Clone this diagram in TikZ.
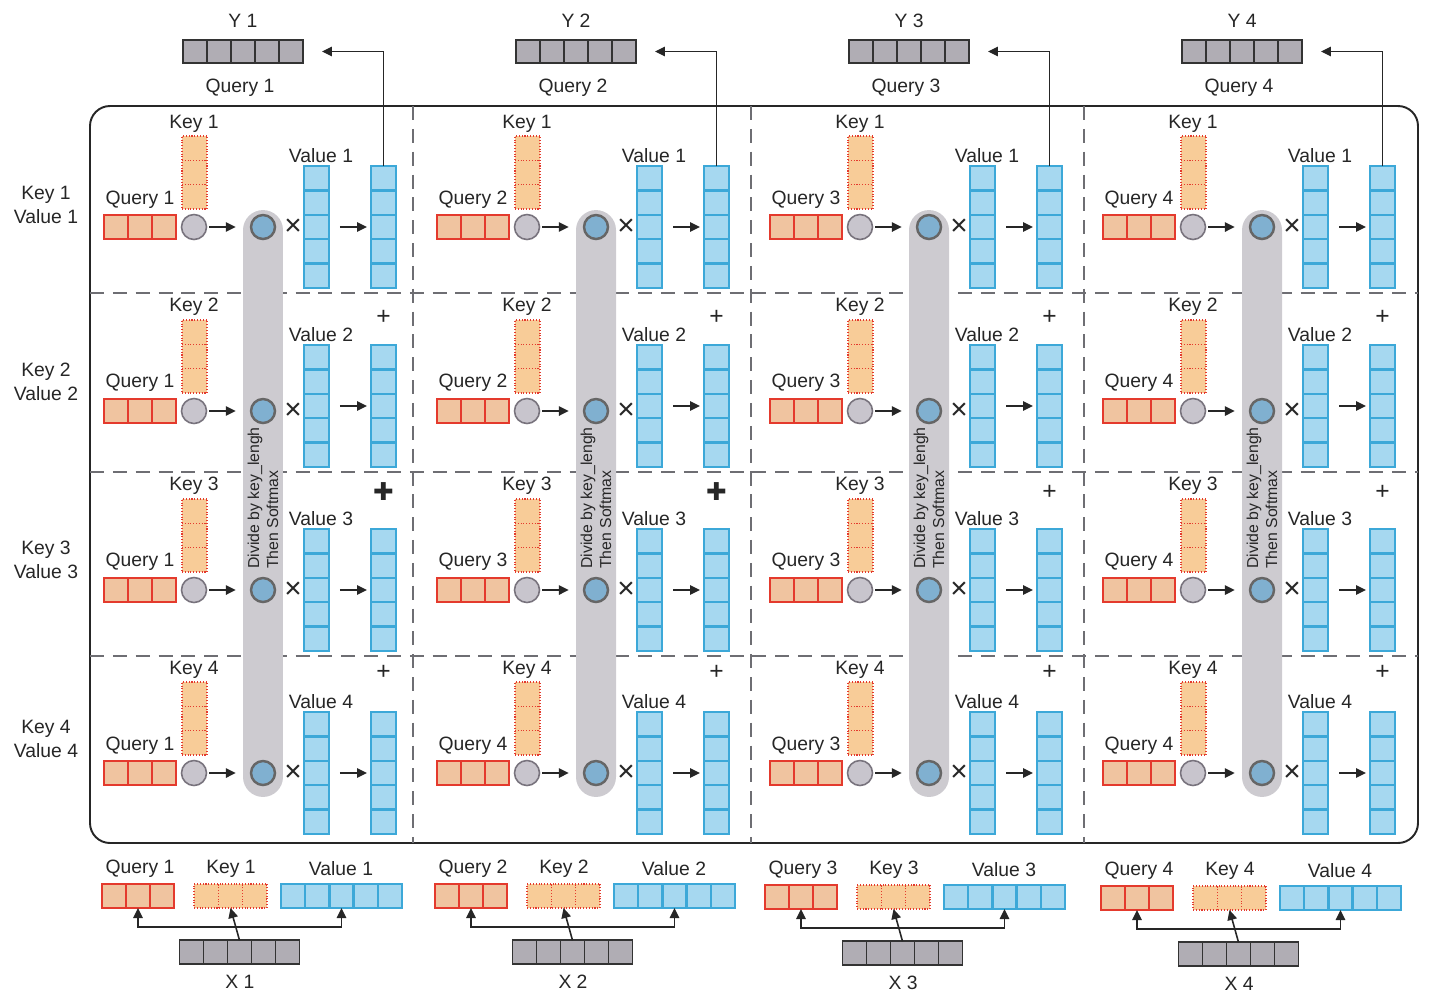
\documentclass[tikz,border=0pt]{standalone}
\usepackage{fontspec}
\setmainfont{Liberation Sans}
\newfontfamily\symfont{DejaVu Sans}
\usetikzlibrary{arrows.meta,calc}
\definecolor{qred}{RGB}{228,58,45}
\definecolor{qfill}{RGB}{240,196,160}
\definecolor{kfill}{RGB}{248,204,152}
\definecolor{vblue}{RGB}{60,168,216}
\definecolor{vfill}{RGB}{166,216,240}
\definecolor{dotgray}{RGB}{120,115,125}
\definecolor{dotfill}{RGB}{200,197,205}
\definecolor{bfill}{RGB}{128,176,208}
\definecolor{pillgray}{RGB}{205,203,208}
\definecolor{boxgray}{RGB}{176,173,180}
\definecolor{sepgray}{RGB}{110,110,115}

\begin{document}
\begin{tikzpicture}[x=0.02cm, y=-0.02cm, every node/.style={font=\fontsize{11}{14}\selectfont, text=black!85},
	hcells/.style n args={2}{path picture={\foreach \k in {1,...,#1} \draw[#2] ($(path picture bounding box.south west)!\k/#1!(path picture bounding box.south east)$) -- ($(path picture bounding box.north west)!\k/#1!(path picture bounding box.north east)$);}},
	vcells/.style n args={2}{path picture={\foreach \k in {1,...,#1} \draw[#2] ($(path picture bounding box.north west)!\k/#1!(path picture bounding box.south west)$) -- ($(path picture bounding box.north east)!\k/#1!(path picture bounding box.south east)$);}},
	qbox/.style={draw=qred, fill=qfill, line width=1.3pt, inner sep=0pt, outer sep=0pt, minimum width=1.44cm, minimum height=0.48cm, hcells={3}{qred, line width=1.3pt}},
	kbox/.style={draw=qred, dash pattern=on 0.6pt off 1pt, fill=kfill, line width=0.7pt, inner sep=0pt, outer sep=0pt, minimum width=0.5cm, minimum height=1.46cm, vcells={3}{qred, dash pattern=on 0.6pt off 1pt, line width=0.7pt}},
	kbar/.style={draw=qred, dash pattern=on 0.6pt off 1pt, fill=kfill, line width=0.7pt, inner sep=0pt, outer sep=0pt, minimum width=1.46cm, minimum height=0.48cm, hcells={3}{qred, dash pattern=on 0.6pt off 1pt, line width=0.7pt}},
	vbox/.style={draw=vblue, fill=vfill, line width=1.4pt, inner sep=0pt, outer sep=0pt, minimum width=0.5cm, minimum height=2.44cm, vcells={5}{vblue, line width=1.4pt}},
	vbar/.style={draw=vblue, fill=vfill, line width=1.4pt, inner sep=0pt, outer sep=0pt, minimum width=2.42cm, minimum height=0.48cm, hcells={5}{vblue, line width=1.4pt}},
	ybox/.style={draw=black!80, fill=boxgray, line width=1pt, inner sep=0pt, outer sep=0pt, minimum width=2.4cm, minimum height=0.47cm, hcells={5}{black!80, line width=1pt}},
	gdot/.style={circle, draw=dotgray, fill=dotfill, line width=0.9pt, minimum size=0.5cm, inner sep=0pt},
	bdot/.style={circle, draw=black!60, fill=bfill, line width=1.4pt, minimum size=0.48cm, inner sep=0pt},
	pill/.style={fill=pillgray, rounded corners=0.4cm, minimum width=0.8cm, minimum height=11.74cm, inner sep=0pt},
	soft/.style={rotate=90, align=left, font=\fontsize{9}{10.8}\selectfont},
	times/.style={font=\fontsize{17}{17}\selectfont, inner sep=0pt},
	plus/.style={font=\fontsize{14}{14}\selectfont, inner sep=0pt},
	tip/.style={-{Triangle[length=0.2cm, width=0.19cm]}, line width=0.9pt, black!85},
	sep/.style={sepgray, line width=1.1pt, dash pattern=on 8pt off 5pt},
	frame/.style={black!85, line width=1.1pt, rounded corners=0.4cm}]
	\useasboundingbox (0,0) rectangle (1430,1002);

	% frame and grid
	\draw[frame] (90,106) rectangle (1418,843);
	\foreach \x in {413,751,1084} {\draw[sep] (\x,106) -- (\x,843);}
	\foreach \y in {293,472,656} {\draw[sep] (90,\y) -- (1418,\y);}

	% row labels
	\foreach \r/\ly in {1/205, 2/382, 3/560, 4/739} {\node[align=center] (rl\r) at (46,\ly) {Key \r\\Value \r};}

	% softmax columns
	\foreach \c in {1,...,4} {
		\node[pill] (pill\c) at ({263+333*(\c-1)},503.5) {};
		\node[soft] (soft\c) at ({263+333*(\c-1)},498) {Divide by key\_lengh\\Then Softmax};
	}

	% cells
	\foreach \r/\cy/\ky/\ql/\vl/\vy/\qs in {1/227/124/200/156/227/{1,2,3,4}, 2/411/307/383/335/406/{1,2,3,4}, 3/590/486/562/519/590/{1,3,3,4}, 4/773/670/746/702/773/{1,4,3,4}} {
		\foreach \q [count=\c] in \qs {
			\pgfmathsetmacro\ox{333*(\c-1)}
			\node[qbox] (q\c\r) at ({140+\ox},\cy) {}; \node (ql\c\r) at ({140+\ox},\ql) {Query \q};
			\node[kbox] (k\c\r) at ({194.5+\ox},{\cy-54.5}) {}; \node (kl\c\r) at ({194+\ox},\ky) {Key \r};
			\node[gdot] (g\c\r) at ({194+\ox},\cy) {}; \node[bdot] (b\c\r) at ({263+\ox},\cy) {};
			\node[times] (m\c\r) at ({293+\ox},\cy) {×};
			\node[vbox] (v\c\r) at ({316.5+\ox},\vy) {}; \node (vl\c\r) at ({321+\ox},\vl) {Value \r};
			\node[vbox] (o\c\r) at ({383.5+\ox},\vy) {};
			\draw[tip, shorten <=1pt, shorten >=0.28cm] (g\c\r) -- (b\c\r);
			\draw[tip, shorten <=0.22cm, shorten >=0.08cm] (v\c\r) -- (o\c\r);
		}
	}
	\foreach \r/\py in {2/317, 3/492, 4/672} {
		\foreach \c in {1,...,4} {\node[plus] (p\c\r) at ({383.5+333*(\c-1)},\py) {\ifnum\r=3 \ifnum\c<3 {\symfont ✚}\else +\fi\else +\fi};}
	}

	% outputs
	\foreach \c in {1,...,4} {
		\pgfmathsetmacro\ox{333*(\c-1)}
		\node[ybox] (y\c) at ({243+\ox},51.5) {};
		\node (yl\c) at ({243+\ox},21) {Y \c}; \node (yq\c) at ({240+\ox},88) {Query \c};
		\draw[tip, line width=0.6pt] (o\c1.north) |- ([xshift=0.38cm]y\c.east);
	}

	% inputs
	\foreach \c/\ox/\oy in {1/0/0, 2/333/0, 3/663/1, 4/999/2} {
		\node[qbox] (bq\c) at ({138+\ox},{896+\oy}) {}; \node (bql\c) at ({140+\ox},{869+\oy}) {Query \c};
		\node[kbar] (bk\c) at ({230.5+\ox},{896+\oy}) {}; \node (bkl\c) at ({231+\ox},{869+\oy}) {Key \c};
		\node[vbar] (bv\c) at ({341.5+\ox},{896+\oy}) {}; \node (bvl\c) at ({341+\ox},{869+\oy}) {Value \c};
		\node[ybox] (x\c) at ({239.5+\ox},{952+\oy}) {}; \node (xl\c) at ({240+\ox},{982+\oy}) {X \c};
		\coordinate (j\c) at ([yshift=0.26cm]x\c.north);
		\draw[tip] (x\c.north) -- (bk\c.south);
		\draw[tip] (j\c) -| (bq\c.south);
		\draw[tip] (j\c) -| (bv\c.south);
	}
\end{tikzpicture}
\end{document}
